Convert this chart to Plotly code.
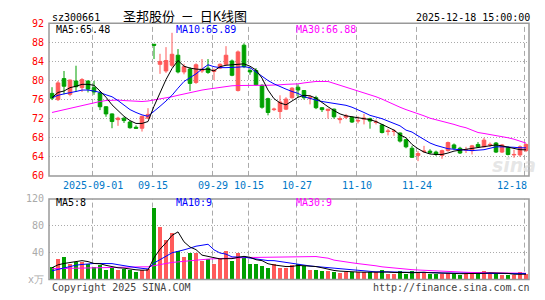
import plotly.graph_objects as go

# ---------------- data ----------------
dates = ["08-21","08-22","08-25","08-26","08-27","08-28","08-29","09-01","09-02","09-03",
         "09-04","09-05","09-08","09-09","09-10","09-11","09-12","09-15","09-16","09-17",
         "09-18","09-19","09-22","09-23","09-24","09-25","09-26","09-29","09-30","10-09",
         "10-10","10-13","10-14","10-15","10-16","10-17","10-20","10-21","10-22","10-23",
         "10-24","10-27","10-28","10-29","10-30","10-31","11-03","11-04","11-05","11-06",
         "11-07","11-10","11-11","11-12","11-13","11-14","11-17","11-18","11-19","11-20",
         "11-21","11-24","11-25","11-26","11-27","11-28","12-01","12-02","12-03","12-04",
         "12-05","12-08","12-09","12-10","12-11","12-12","12-15","12-16","12-17","12-18"]

tick_dates = ["09-01", "09-15", "09-29", "10-15", "10-27", "11-10", "11-24", "12-18"]
tick_texts = ["2025-09-01", "09-15", "09-29", "10-15", "10-27", "11-10", "11-24", "12-18"]

opens = [77.3,76.0,80.4,77.1,79.9,78.5,79.9,78.5,77.4,74.5,
         73.0,71.8,72.1,71.3,70.2,70.0,72.1,87.6,83.4,82.0,
         83.2,85.3,81.8,82.4,79.6,82.0,82.6,81.9,82.6,83.4,
         84.1,77.9,87.4,82.1,82.1,79.0,76.2,73.9,73.5,74.0,
         76.4,78.6,77.9,76.3,76.4,74.3,73.7,74.0,71.8,72.3,
         72.3,71.5,71.9,72.0,71.2,70.7,69.3,69.3,69.0,67.6,
         65.8,64.3,65.1,65.2,65.0,64.3,65.3,66.5,65.8,65.4,
         65.3,66.6,66.1,66.5,66.9,65.0,66.0,64.4,64.4,65.3]
highs = [78.6,79.9,82.0,80.2,83.1,80.5,80.0,79.9,77.8,74.6,
         73.1,72.4,72.3,71.5,70.6,72.6,74.2,87.6,85.6,87.0,
         90.0,86.6,83.5,82.8,83.6,84.5,84.5,82.5,83.6,87.2,
         84.4,86.3,87.8,82.6,82.6,79.2,76.4,74.3,76.9,76.5,
         78.6,79.2,78.0,76.9,76.8,74.4,74.0,74.1,72.5,73.0,
         72.5,72.5,73.0,72.2,71.8,70.9,69.9,69.8,69.1,67.8,
         66.3,65.2,66.3,65.6,65.3,65.5,67.2,66.8,66.1,66.1,
         66.5,67.1,68.0,67.0,67.1,66.7,66.2,65.5,66.4,66.8]
lows = [75.9,75.7,77.1,76.7,77.6,77.6,77.5,77.0,73.8,72.4,
        70.0,70.5,71.1,69.9,69.9,69.3,71.9,84.5,81.4,81.6,
        82.8,81.5,81.3,77.8,79.3,81.6,81.4,80.1,82.4,83.2,
        80.9,77.7,82.6,81.2,78.9,74.1,72.7,73.6,72.0,73.8,
        76.2,76.5,76.0,75.0,74.0,73.4,72.0,72.0,71.0,71.9,
        71.1,71.0,70.8,69.9,70.8,68.9,68.5,68.4,67.0,65.8,
        63.8,63.1,64.8,64.6,64.2,63.6,65.1,65.5,64.6,64.8,
        64.5,65.9,66.0,66.1,64.8,64.8,64.3,63.8,64.0,65.0]
closes = [76.3,79.5,78.8,80.1,78.7,80.2,78.2,77.6,74.5,73.0,
          71.4,72.1,71.6,70.1,70.0,72.5,72.9,87.4,84.0,84.2,
          85.5,81.8,82.9,79.4,83.3,82.4,81.7,82.2,83.4,85.3,
          81.1,86.0,82.9,81.8,79.1,74.4,73.3,74.0,75.5,76.1,
          78.4,78.0,76.4,76.5,74.3,73.9,74.0,72.4,72.0,72.6,
          71.3,71.6,72.1,71.5,71.3,69.1,69.4,69.4,67.3,66.1,
          63.9,64.7,65.2,64.9,64.5,65.3,67.0,65.8,64.8,65.5,
          66.3,66.1,67.5,66.6,65.0,66.5,64.5,64.5,66.1,66.6]

ma5 = [76.4,77.5,77.8,78.5,78.8,79.2,79.2,79.0,77.8,76.5,
       74.9,73.7,72.5,71.6,71.0,71.0,71.4,74.6,77.4,80.2,
       82.5,84.2,83.0,82.6,82.4,82.3,82.4,82.0,82.9,83.2,
       83.3,83.4,83.5,83.0,82.2,80.5,78.0,76.2,75.3,74.9,
       75.7,76.5,76.9,76.8,76.3,75.3,74.5,73.7,73.0,72.6,
       72.4,72.2,72.0,71.8,71.4,70.8,70.2,69.6,68.6,68.0,
       66.6,65.7,65.0,64.6,64.5,64.5,64.8,65.2,65.4,65.6,
       65.8,66.0,66.1,66.3,66.5,66.3,66.0,65.7,65.5,65.48]
ma10 = [76.4,76.9,77.2,77.4,77.7,78.0,78.0,77.8,77.5,77.0,
        76.6,75.8,74.9,73.9,73.3,72.8,72.5,73.5,74.6,75.7,
        76.9,78.4,79.8,80.6,81.4,82.4,83.3,82.9,82.7,82.7,
        82.7,82.8,82.9,82.7,81.8,80.8,80.0,79.3,78.7,78.2,
        77.7,77.3,76.6,76.2,75.9,75.6,75.4,75.3,75.1,74.8,
        74.4,73.9,73.3,72.7,72.4,72.0,71.5,71.0,70.5,69.6,
        69.2,68.4,67.6,66.9,66.4,66.0,65.7,65.6,65.5,65.4,
        65.3,65.4,65.5,65.8,66.1,66.1,66.1,66.0,65.9,65.89]
ma30 = [73.3,73.6,73.9,74.2,74.5,74.8,75.1,75.4,75.6,75.8,
        75.9,75.9,75.8,75.7,75.6,75.6,75.7,75.9,76.1,76.3,
        76.6,76.9,77.2,77.5,77.8,78.0,78.2,78.4,78.6,78.8,
        78.9,78.95,79.0,79.0,79.0,79.0,79.0,79.0,79.1,79.2,
        79.2,79.3,79.5,79.7,79.8,79.8,79.8,79.4,79.0,78.6,
        78.2,77.8,77.5,77.0,76.6,76.1,75.5,74.9,74.4,73.9,
        73.5,73.0,72.6,72.1,71.8,71.4,71.1,70.8,70.4,70.1,
        69.6,69.1,68.9,68.7,68.5,68.3,68.0,67.7,67.3,66.88]

volumes = [19,31,33,24,27,26,24,19,22,15,
           17,15,16,14,11,14,16,107,78,59,
           69,42,33,39,40,28,31,24,31,42,
           28,40,32,24,24,21,17,23,18,18,
           22,24,21,15,15,13,13,12,10,11,
           12,11,11,11,11,15,8,8,13,9,
           13,10,10,9,9,9,10,9,7,9,
           9,9,13,10,9,7,7,7,11,8]
vma5 = [17.6,22,24,25,26.8,28.2,26.8,24,23.6,21.2,
        19.4,17.6,17,15.4,14.6,14,14.2,32.4,45.2,54.8,
        65.8,71,56.2,48.4,44.6,36.4,34.2,32.4,30.8,31.2,
        31.2,33,34.6,33.2,29.6,28.2,23.6,21.8,20.6,19.4,
        19.6,21,20.6,20,19.4,17.6,15.4,13.6,12.6,11.8,
        11.6,11.2,11,11.2,11.2,11.8,11.2,10.6,11,10.6,
        10.2,10.6,11,10.2,10.2,9.4,9.4,9.2,8.8,8.8,
        8.8,8.6,9.4,10,10,9.6,9.2,8,8.2,8]
vma10 = [13,15,18,20,21.5,22.5,23.5,24,24,24,
         23.8,22.2,20.5,19.5,17.9,16.7,15.9,24.7,30.3,34.7,
         39.9,42.6,44.3,46.8,49.7,51.1,52.6,44.3,39.6,37.9,
         33.8,33.6,33.5,32,30.4,29.7,28.3,28.2,26.9,24.5,
         23.9,22.3,21.2,20.3,19.4,18.6,18.2,17.1,16.3,15.6,
         14.6,13.3,12.3,11.9,11.5,11.7,11.2,10.8,11.1,10.9,
         11,10.9,10.8,10.6,10.4,9.8,10,10.1,9.5,9.5,
         9.1,9,9.3,9.4,9.4,9.2,8.9,8.7,9.1,9.0]
vma30 = [16.2,16.4,16.7,17.0,17.3,17.6,17.9,18.2,18.5,18.8,
         19.0,19.0,19.0,19.0,19.0,19.0,19.0,21.0,22.5,24.0,
         25.5,26.5,27.5,28.5,29.5,30.0,30.5,31.0,31.5,32.0,
         32.2,32.5,32.8,33.0,33.0,33.1,33.2,33.3,33.3,33.8,
         34.3,34.3,34.3,34.3,34.3,33.0,31.9,29.0,28.0,27.0,
         25.0,23.8,23.0,22.4,20.5,19.0,18.0,17.0,16.2,15.5,
         14.8,14.3,13.8,13.0,12.6,12.2,11.9,11.5,11.2,10.9,
         10.6,10.5,10.4,10.3,10.2,10.1,10.0,9.8,9.6,9.4]

price_ticks = [60, 64, 68, 72, 76, 80, 84, 88, 92]
vol_ticks = [0, 40, 80, 120]
vol_tick_text = ["x万", "40", "80", "120"]

# ---------------- styling ----------------
W, H = 545, 300
RED, GREEN = "#ff5a5a", "#00a000"
MONO = "DejaVu Sans Mono"
px = lambda x: x / W
py = lambda y: 1 - y / H
L, R = 49, 529
P_TOP, P_BOT = 18, 177
V_TOP, V_BOT = 201, 285

idx = list(range(len(dates)))
vol_colors = [RED if c >= o else GREEN for o, c in zip(opens, closes)]

fig = go.Figure()
fig.add_trace(go.Candlestick(
    x=idx, open=opens, high=highs, low=lows, close=closes,
    increasing=dict(line=dict(color=RED, width=1), fillcolor=RED),
    decreasing=dict(line=dict(color=GREEN, width=1), fillcolor=GREEN),
    whiskerwidth=0, xaxis="x", yaxis="y", showlegend=False, hoverinfo="skip"))
for arr, col in [(ma30, "#ff00ff"), (ma10, "#0000ff"), (ma5, "#000000")]:
    fig.add_trace(go.Scatter(x=idx, y=arr, mode="lines", line=dict(color=col, width=1),
                             xaxis="x", yaxis="y", showlegend=False, hoverinfo="skip"))
fig.add_trace(go.Bar(x=idx, y=volumes, marker=dict(color=vol_colors, line=dict(width=0)),
                     width=0.82, xaxis="x2", yaxis="y2", showlegend=False, hoverinfo="skip"))
for arr, col in [(vma30, "#ff00ff"), (vma10, "#0000ff"), (vma5, "#000000")]:
    fig.add_trace(go.Scatter(x=idx, y=arr, mode="lines", line=dict(color=col, width=1),
                             xaxis="x2", yaxis="y2", showlegend=False, hoverinfo="skip"))

shapes = []
tick_idx = [dates.index(d) for d in tick_dates]
for ti in tick_idx:
    for yr in ["y domain", "y2 domain"]:
        shapes.append(dict(type="line", xref="x", yref=yr, x0=ti - 0.25, x1=ti - 0.25,
                           y0=0, y1=1, line=dict(color="#aaaaaa", width=1, dash="5px,3px"),
                           layer="below"))
for (t, b) in [(P_TOP, P_BOT), (V_TOP, V_BOT)]:
    shapes.append(dict(type="rect", xref="paper", yref="paper", x0=px(L), x1=px(R),
                       y0=py(b), y1=py(t), line=dict(color="#999999", width=1.5),
                       layer="above"))

ann = []
def txt(x, y, s, color="#000", size=10, anchor="left", family=MONO, xref="paper"):
    ann.append(dict(x=x, y=py(y), xref=xref, yref="paper", text=s, showarrow=False,
                    xanchor=anchor, yanchor="middle", font=dict(family=family, size=size, color=color)))

txt(px(50), 12, "sz300661")
txt(px(121), 10, "圣邦股份&nbsp;&nbsp;－&nbsp;&nbsp;日K线图", size=13, family="Noto Sans CJK SC")
txt(px(532), 12, "2025-12-18 15:00:00", anchor="right")
txt(px(54), 24, f"MA5:{ma5[-1]:.2f}")
txt(px(174), 24, f"MA10:{ma10[-1]:.2f}", color="#0000ff")
txt(px(294), 24, f"MA30:{ma30[-1]:.2f}", color="#ff00ff")
txt(px(54), 205, f"MA5:{vma5[-1]:.0f}")
txt(px(174), 205, f"MA10:{vma10[-1]:.0f}", color="#0000ff")
txt(px(294), 205, f"MA30:{vma30[-1]:.0f}", color="#ff00ff")
for k, (ti, t) in enumerate(zip(tick_idx, tick_texts)):
    last = k == len(tick_idx) - 1
    txt(ti - 0.25 if not last else 79.5, 187, t, color="#0078c8",
        anchor="right" if last else "center", xref="x")
txt(px(50), 293, "Copyright 2025 SINA.COM", color="#444444")
txt(px(532), 293, "http://finance.sina.com.cn", color="#444444", anchor="right")
ann.append(dict(x=px(514), y=py(166), xref="paper", yref="paper", text="<b><i>sina</i></b>",
                showarrow=False, xanchor="center", yanchor="middle",
                font=dict(family="DejaVu Sans", size=19, color="rgba(200,200,200,0.45)")))

xcommon = dict(range=[-0.5, 79.5], showgrid=False, zeroline=False, showticklabels=False,
               ticks="", showline=False, rangeslider=dict(visible=False), fixedrange=True)
fig.update_layout(
    width=W, height=H, margin=dict(l=0, r=0, t=0, b=0),
    paper_bgcolor="white", plot_bgcolor="white", boxgap=0.15, bargap=0,
    xaxis=dict(domain=[px(L), px(R)], anchor="y", **xcommon),
    xaxis2=dict(domain=[px(L), px(R)], anchor="y2", **xcommon),
    yaxis=dict(domain=[py(P_BOT), py(P_TOP)], range=[60, 92], tickvals=price_ticks,
               showgrid=True, gridcolor="#aaaaaa", griddash="1px,2px", gridwidth=1,
               zeroline=False, showline=False, ticks="outside", ticklen=2, tickcolor="rgba(0,0,0,0)",
               tickfont=dict(family=MONO, size=10, color="#ff0000"), fixedrange=True),
    yaxis2=dict(domain=[py(V_BOT), py(V_TOP)], range=[0, 120], tickvals=vol_ticks,
                ticktext=vol_tick_text, showgrid=True, gridcolor="#aaaaaa", griddash="1px,2px",
                zeroline=False, showline=False, ticks="outside", ticklen=2, tickcolor="rgba(0,0,0,0)",
                tickfont=dict(family=MONO, size=10, color="#aaaaaa"), fixedrange=True),
    shapes=shapes, annotations=ann, showlegend=False,
)
fig.write_html("out.html")
